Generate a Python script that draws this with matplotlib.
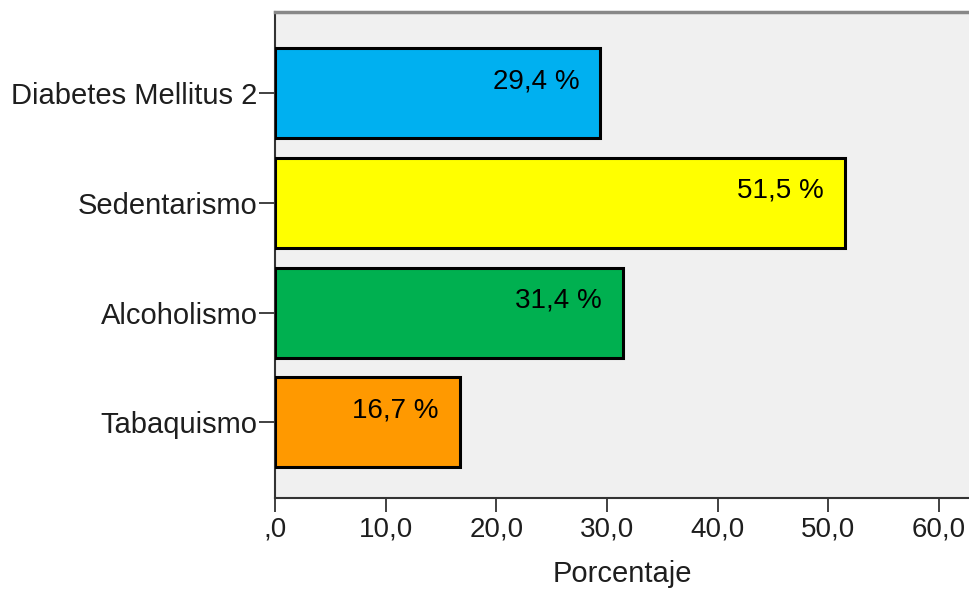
import numpy as np
import matplotlib.pyplot as plt

categories = ['Diabetes Mellitus 2', 'Sedentarismo', 'Alcoholismo', 'Tabaquismo']
values = [29.4, 51.5, 31.4, 16.7]
colors = ['#00B0F0', '#FFFF00', '#00B050', '#FF9900']
xticks = [0, 10, 20, 30, 40, 50, 60]
xticklabels = [',0', '10,0', '20,0', '30,0', '40,0', '50,0', '60,0']

plt.rcParams['font.family'] = ['Liberation Sans', 'DejaVu Sans']

fig = plt.figure(figsize=(9.69, 6.04), dpi=100)
ax = fig.add_axes([275 / 969, 1 - 498 / 604, 1 - 275 / 969, (498 - 12) / 604])
ax.set_facecolor('#F0F0F0')

# first category on top
pos = np.arange(len(categories))[::-1]
bars = ax.barh(pos, values, height=0.82, color=colors, edgecolor='black', linewidth=2.2, zorder=3)

for p, v in zip(pos, values):
    ax.annotate(f'{v:.1f} %'.replace('.', ','), xy=(v, p), xytext=(-21, 12),
                textcoords='offset pixels', ha='right', va='center',
                fontsize=20, color='black', zorder=4)

ax.set_xlim(0, 62.7)
ax.set_ylim(-0.69, 3.74)
ax.set_xticks(xticks)
ax.set_xticklabels(xticklabels)
ax.set_yticks(pos)
ax.set_yticklabels(categories)

ax.tick_params(axis='y', length=11.5, width=1.3, color='#333333', labelsize=21,
               labelcolor='#1e1e1e', pad=1)
ax.tick_params(axis='x', length=10, width=1.3, color='#333333', labelsize=20,
               labelcolor='#1e1e1e', pad=3)
ax.set_xlabel('Porcentaje', fontsize=21, color='#1e1e1e', labelpad=13)

for s in ['left', 'bottom']:
    ax.spines[s].set_color('#333333')
    ax.spines[s].set_linewidth(1.5)
ax.spines['top'].set_color('#888888')
ax.spines['top'].set_linewidth(2.5)
ax.spines['right'].set_visible(False)

fig.savefig('out.png', dpi=100)
